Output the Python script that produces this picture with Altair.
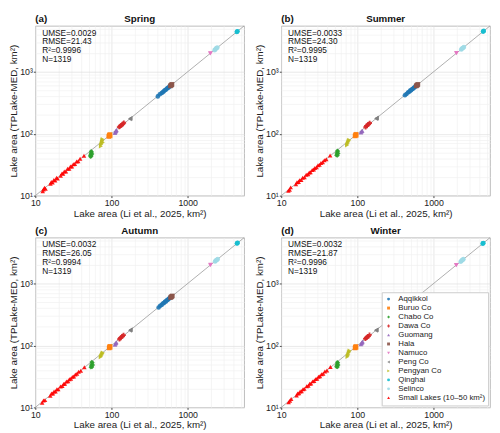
import altair as alt
import pandas as pd

LAKES = ["Aqqikkol", "Buruo Co", "Chabo Co", "Dawa Co", "Guomang", "Hala", "Namuco",
         "Peng Co", "Pengyan Co", "Qinghai", "Selinco", "Small Lakes (10–50 km²)"]
COLORS = ["#1f77b4", "#ff7f0e", "#2ca02c", "#d62728", "#9467bd", "#8c564b", "#e377c2",
          "#7f7f7f", "#bcbd22", "#17becf", "#9edae5", "#ff0000"]
SHAPES = ["circle", "square", "diamond", "cross", "triangle-up", "square", "triangle-down",
          "triangle-left", "triangle-right", "circle", "circle", "triangle-up"]

SEASONS = ["Spring", "Summer", "Autumn", "Winter"]
TAGS = ["(a)", "(b)", "(c)", "(d)"]
UMSE = ["0.0029", "0.0033", "0.0032", "0.0032"]
RMSE = ["21.43", "24.30", "26.05", "21.87"]
R2 = ["0.9996", "0.9995", "0.9994", "0.9996"]
N = ["1319", "1319", "1319", "1319"]

# (Li et al. area, TPLake-MED area) per lake and season
spring = {
    "Small Lakes (10–50 km²)": (
        [12.5, 12.8, 13.2, 13.6, 15.8, 16.2, 16.8, 17.5, 18.2, 19.0, 19.6, 21.5, 22.4, 23.1, 24.0, 25.2, 26.5, 27.8, 28.9, 30.2, 31.5, 33.0, 34.8, 36.5, 38.7, 43.5],
        [11.8, 12.6, 13.4, 12.9, 15.5, 16.6, 16.3, 17.9, 17.6, 19.4, 18.9, 21.0, 22.9, 22.6, 24.5, 24.6, 27.1, 27.2, 29.5, 29.6, 32.2, 32.4, 35.5, 35.8, 39.4, 44.2]),
    "Chabo Co": ([52.5, 53.2, 53.8, 54.4, 55.0, 55.6, 54.0, 53.0], [44.0, 46.5, 48.8, 43.5, 50.5, 47.0, 52.0, 42.5]),
    "Pengyan Co": ([72.5, 73.5, 74.2, 75.0, 75.8, 76.5, 77.0], [63, 67, 70.5, 74, 78, 81, 72]),
    "Buruo Co": ([92, 93, 94, 95, 96], [90, 93, 95, 97, 92]),
    "Guomang": ([111, 112.5, 114, 115, 116], [103, 106, 110, 113, 115]),
    "Dawa Co": ([126, 129, 132, 135, 139, 142, 145], [128, 131, 135, 137, 141, 145, 150]),
    "Peng Co": ([174, 176, 178], [173, 176, 178]),
    "Aqqikkol": ([405, 430, 455, 470, 485, 500, 515, 530, 545, 560, 575, 585], [400, 432, 452, 468, 482, 503, 512, 533, 548, 556, 578, 582]),
    "Hala": ([592, 600, 608, 615, 622], [590, 603, 606, 618, 625]),
    "Namuco": ([1975, 1990], [1970, 1995]),
    "Selinco": ([2250, 2300, 2350, 2400, 2450], [2230, 2290, 2370, 2410, 2460]),
    "Qinghai": ([4400, 4450, 4500], [4390, 4460, 4510]),
}
summer = {
    "Small Lakes (10–50 km²)": (
        [12.4, 12.9, 13.3, 15.6, 16.1, 16.9, 17.4, 18.3, 19.1, 20.2, 21.3, 22.5, 23.3, 24.2, 25.5, 26.7, 27.6, 29.1, 30.4, 31.8, 33.2, 35.0, 36.8, 39.0, 43.8],
        [12.0, 12.5, 13.6, 15.2, 16.5, 16.6, 17.8, 17.9, 19.5, 19.8, 21.7, 22.1, 23.7, 23.9, 25.9, 26.4, 28.0, 28.8, 30.9, 31.4, 33.7, 34.6, 37.3, 38.6, 44.5]),
    "Chabo Co": ([53.0, 53.6, 54.2, 54.8, 55.4, 56.0, 54.5], [45.0, 47.5, 50.0, 44.5, 52.0, 48.0, 53.0]),
    "Pengyan Co": ([73.0, 74.0, 75.0, 76.0, 77.0, 78.0], [65, 68, 71, 74, 77, 79]),
    "Buruo Co": ([93, 94.5, 95.5, 96.5], [92, 95, 98, 94]),
    "Guomang": ([111, 112.5, 114, 115.5], [104, 107, 110, 112]),
    "Dawa Co": ([128, 131, 134, 137, 141, 145], [127, 133, 135, 140, 143, 149]),
    "Peng Co": ([176, 178, 180], [175, 178, 180]),
    "Aqqikkol": ([420, 440, 460, 478, 492, 505, 520, 535, 550, 565, 580], [418, 438, 462, 474, 495, 502, 523, 532, 553, 562, 583]),
    "Hala": ([590, 598, 606, 614, 622], [588, 600, 610, 612, 626]),
    "Namuco": ([1985, 2000], [1980, 2005]),
    "Selinco": ([2300, 2350, 2400, 2450, 2500], [2280, 2340, 2420, 2440, 2510]),
    "Qinghai": ([4450, 4500, 4550], [4440, 4510, 4560]),
}
autumn = {
    "Small Lakes (10–50 km²)": (
        [12.3, 12.8, 13.4, 15.7, 16.3, 17.0, 17.6, 18.4, 19.2, 20.0, 21.4, 22.6, 23.5, 24.4, 25.6, 26.9, 28.0, 29.3, 30.6, 32.0, 33.5, 35.2, 37.0, 39.5, 44.0],
        [11.9, 12.9, 13.1, 15.4, 16.8, 16.7, 18.1, 18.0, 19.6, 19.7, 21.8, 22.2, 23.9, 24.0, 26.1, 26.5, 28.4, 28.9, 31.1, 31.6, 33.9, 34.8, 37.5, 39.0, 44.6]),
    "Chabo Co": ([53.5, 54.2, 54.8, 55.5, 56.2, 56.8, 55.0], [44.5, 47.0, 49.5, 45.0, 52.5, 48.5, 54.0]),
    "Pengyan Co": ([72.0, 73.0, 74.0, 75.0, 76.0, 77.0], [65, 67, 69.5, 72, 74, 76]),
    "Buruo Co": ([93, 94, 95, 96], [91, 94, 97, 93]),
    "Guomang": ([111, 112.5, 114, 115.5], [103, 106, 109, 113]),
    "Dawa Co": ([127, 130, 133, 137, 140, 144], [126, 131, 134, 139, 142, 147]),
    "Peng Co": ([175, 177, 179], [174, 177, 180]),
    "Aqqikkol": ([415, 435, 455, 472, 488, 502, 518, 532, 548, 562, 578, 590], [410, 437, 451, 476, 485, 506, 514, 536, 546, 565, 576, 593]),
    "Hala": ([595, 603, 611, 619, 628], [592, 606, 608, 622, 630]),
    "Namuco": ([1980, 1995], [1975, 2000]),
    "Selinco": ([2280, 2330, 2380, 2430, 2480], [2260, 2320, 2400, 2420, 2490]),
    "Qinghai": ([4420, 4470, 4520], [4410, 4480, 4530]),
}
winter = {
    "Small Lakes (10–50 km²)": (
        [12.5, 13.0, 13.5, 15.9, 16.4, 17.1, 17.7, 18.5, 19.3, 20.1, 21.6, 22.7, 23.6, 24.6, 25.8, 27.0, 28.2, 29.5, 30.8, 32.2, 33.8, 35.5, 37.4, 39.8, 44.2],
        [12.1, 12.8, 13.7, 15.6, 16.7, 16.9, 18.0, 18.2, 19.7, 19.9, 22.0, 22.3, 24.1, 24.2, 26.3, 26.6, 28.6, 29.1, 31.3, 31.8, 34.2, 35.0, 37.9, 39.3, 44.9]),
    "Chabo Co": ([53.0, 53.6, 54.2, 54.8, 55.4, 56.0, 54.4], [45.5, 47.8, 50.2, 45.0, 52.5, 48.4, 53.5]),
    "Pengyan Co": ([74.0, 75.0, 76.0, 77.0, 78.0, 79.0], [66, 69, 72, 76, 79, 82]),
    "Buruo Co": ([93, 94, 95, 96], [91, 93.5, 96.5, 93]),
    "Guomang": ([111, 112.5, 114, 115.5, 116.5], [104, 107, 110, 113, 116]),
    "Dawa Co": ([127, 130, 133, 136, 140, 144], [128, 132, 134, 139, 141, 148]),
    "Peng Co": ([175, 177, 179], [174, 177, 179]),
    "Aqqikkol": ([410, 432, 456, 472, 486, 501, 516, 531, 546, 561, 576, 586], [405, 434, 453, 470, 484, 504, 513, 534, 549, 558, 579, 584]),
    "Hala": ([593, 601, 609, 617, 624], [591, 604, 607, 619, 627]),
    "Namuco": ([1975, 1990], [1972, 1994]),
    "Selinco": ([2260, 2310, 2360, 2410, 2460], [2240, 2300, 2380, 2420, 2470]),
    "Qinghai": ([4400, 4450, 4500], [4395, 4455, 4505]),
}
SEASON_DATA = [spring, summer, autumn, winter]

LINE_X = [10, 5500]
LINE_Y = [10, 5500]

rows = []
for season, data in zip(SEASONS, SEASON_DATA):
    for lake in ["Small Lakes (10–50 km²)"] + [l for l in LAKES if l != "Small Lakes (10–50 km²)"]:
        xs, ys = data[lake]
        for a, b in zip(xs, ys):
            rows.append({"season": season, "lake": lake, "ref": a, "med": b})
df = pd.DataFrame(rows)
line_df = pd.DataFrame({"ref": LINE_X, "med": LINE_Y})

TICKS = [10, 20, 30, 40, 50, 60, 70, 80, 90, 100, 200, 300, 400, 500, 600, 700, 800, 900,
         1000, 2000, 3000, 4000, 5000]
MAJOR = "datum.value == 10 || datum.value == 100 || datum.value == 1000"

FONT = "Liberation Sans"
W, H = 214, 174


def make_axis(title, label_expr):
    return alt.Axis(
        title=title, values=TICKS, labelExpr=label_expr, labelOverlap=False, labelFlush=False,
        gridColor={"condition": {"test": MAJOR, "value": "#dedede"}, "value": "#f0f0f0"},
        gridWidth=0.7,
        tickColor={"condition": {"test": MAJOR, "value": "#444444"}, "value": "transparent"},
        tickSize=2, labelPadding=1, titlePadding=1, domain=False,
    )


xlab = "datum.value == 10 ? '10' : datum.value == 100 ? '100' : datum.value == 1000 ? '1000' : ''"
ylab = "datum.value == 10 ? '10¹' : datum.value == 100 ? '10²' : datum.value == 1000 ? '10³' : ''"


def panel(i):
    season = SEASONS[i]
    d = df[df.season == season]
    xscale = alt.Scale(type="log", domain=[10, 5500], nice=False)
    yscale = alt.Scale(type="log", domain=[10, 5500], nice=False)
    x = alt.X("ref:Q", scale=xscale, axis=make_axis("Lake area (Li et al., 2025, km²)", xlab))
    y = alt.Y("med:Q", scale=yscale, axis=make_axis("Lake area (TPLake-MED, km²)", ylab))
    if i == 3:
        leg = alt.Legend(orient="bottom-right", title=None, fillColor="white", strokeColor="#cccccc",
                         padding=3, offset=2, labelFontSize=8, labelFont=FONT, symbolSize=9,
                         rowPadding=1.2, labelLimit=200, labelColor="#222222", labelOffset=6)
        color = alt.Color("lake:N", scale=alt.Scale(domain=LAKES, range=COLORS), legend=leg)
        shape = alt.Shape("lake:N", scale=alt.Scale(domain=LAKES, range=SHAPES), legend=leg)
    else:
        color = alt.Color("lake:N", scale=alt.Scale(domain=LAKES, range=COLORS), legend=None)
        shape = alt.Shape("lake:N", scale=alt.Scale(domain=LAKES, range=SHAPES), legend=None)

    line = alt.Chart(line_df).mark_line(color="#999999", strokeWidth=0.8).encode(x=x, y=y)
    pts = alt.Chart(d).mark_point(filled=True, size=22, opacity=0.9).encode(
        x=x, y=y, color=color, shape=shape)
    txt = "\n".join([f"UMSE={UMSE[i]}", f"RMSE={RMSE[i]}", f"R²={R2[i]}", f"N={N[i]}"])
    stats = alt.Chart(pd.DataFrame({"t": [txt]})).mark_text(
        align="left", baseline="top", fontSize=8.5, font=FONT, lineBreak="\n", lineHeight=9,
        color="#111111").encode(x=alt.value(7), y=alt.value(3), text="t:N")
    tag = alt.Chart(pd.DataFrame({"t": [TAGS[i]]})).mark_text(
        align="left", baseline="bottom", fontSize=10, font=FONT, fontWeight="bold",
        color="#111111").encode(x=alt.value(0), y=alt.value(-2), text="t:N")
    ttl = alt.Chart(pd.DataFrame({"t": [season]})).mark_text(
        align="center", baseline="bottom", fontSize=10, font=FONT, fontWeight="bold",
        color="#111111").encode(x=alt.value(W / 2), y=alt.value(-2), text="t:N")
    return alt.layer(line, pts, stats, tag, ttl).properties(width=W, height=H)


top = alt.hconcat(panel(0), panel(1), spacing=8).resolve_scale(color="independent", shape="independent")
bottom = alt.hconcat(panel(2), panel(3), spacing=8).resolve_scale(color="independent", shape="independent")
chart = alt.vconcat(top, bottom, spacing=6).resolve_scale(
    color="independent", shape="independent"
).configure(padding=0).configure_view(
    stroke="#aaaaaa", strokeWidth=0.8
).configure_axis(
    labelFont=FONT, titleFont=FONT, labelFontSize=9, titleFontSize=10,
    labelColor="#222222", titleColor="#222222", titleFontWeight="normal"
)

chart.save("out.html", embed_options={"renderer": "svg", "actions": False})
